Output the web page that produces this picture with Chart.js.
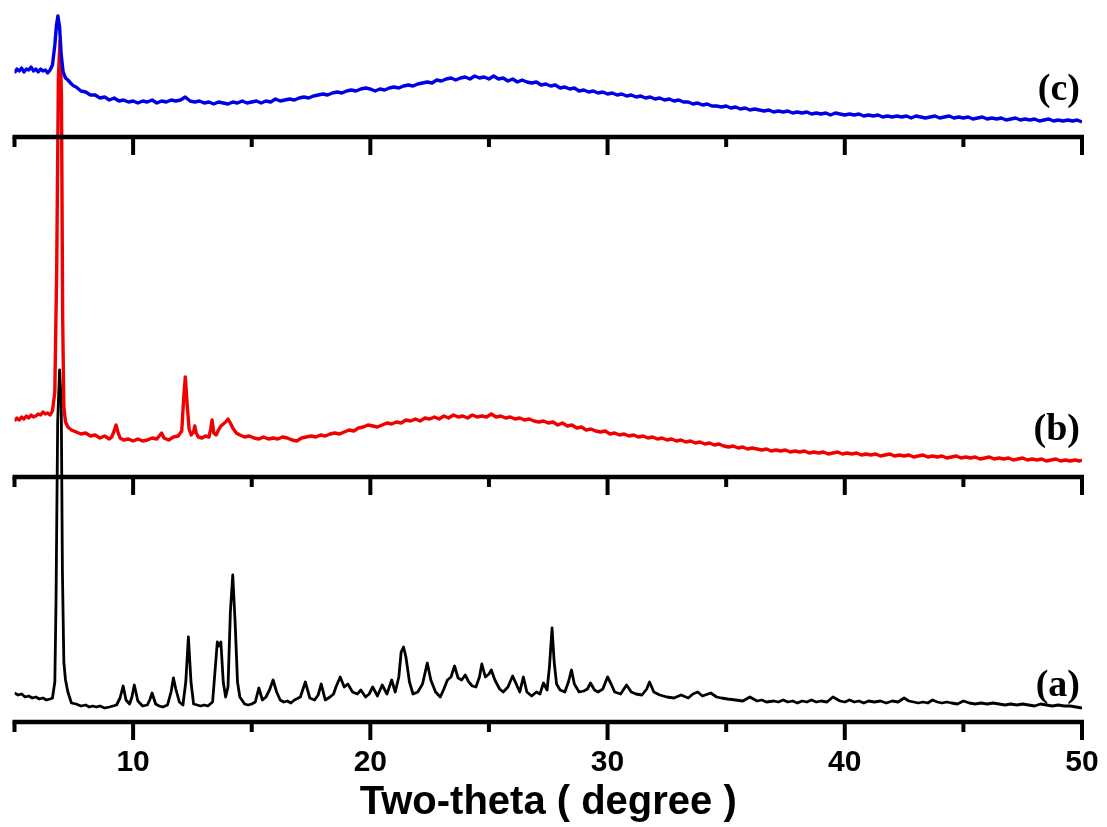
<!DOCTYPE html>
<html>
<head>
<meta charset="utf-8">
<title>XRD patterns</title>
<script src="https://cdn.jsdelivr.net/npm/chart.js@4.4.1/dist/chart.umd.min.js"></script>
<style>
    body { margin: 0; background: #fff; }
    #wrap { width: 1107px; height: 827px; }
</style>
</head>
<body>
<div id="wrap"><canvas id="xrd-chart"></canvas></div>
<script>
// Two-theta range and tick step
const thetaMin = 5;
const thetaMax = 50;
const tickStep = 5;

// Panel labels and the vertical offset of each panel (same units as intensity)
const panelLabels = ['(a)', '(b)', '(c)'];
const panelOffsets = [0, 245, 585];
const panelLabelHeights = [36, 47, 47];

// (c) – blue pattern: [two-theta, intensity above its panel axis]
const patternC = [
    [5.0,64],[5.1,68],[5.2,66],[5.3,69],[5.4,65],[5.5,68],[5.6,67],[5.7,70],[5.8,66],[5.9,68],
    [6.0,65],[6.1,68],[6.2,66],[6.3,67],[6.4,64],[6.5,67],[6.6,72],[6.7,92],[6.77,112],[6.83,121],
    [6.9,110],[6.97,82],[7.05,65],[7.15,59],[7.25,57],[7.4,53],[7.5,51],[7.6,50],[7.8,46],[8.0,45],
    [8.2,42],[8.4,42],[8.6,39],[8.8,40],[9.0,37],[9.2,39],[9.4,36],[9.6,37],[9.8,35],[10.0,36],
    [10.2,34],[10.4,36],[10.6,35],[10.8,37],[11.0,34],[11.2,36],[11.4,35],[11.6,37],[11.8,36],[12.0,37],
    [12.2,40],[12.4,36],[12.6,35],[12.8,36],[13.0,34],[13.2,35],[13.4,33],[13.6,35],[13.8,34],[14.0,33],
    [14.2,35],[14.4,34],[14.6,36],[14.8,34],[15.0,35],[15.2,36],[15.4,34],[15.6,36],[15.8,35],[16.0,38],
    [16.2,36],[16.4,37],[16.6,38],[16.8,37],[17.0,39],[17.2,40],[17.4,39],[17.6,41],[17.8,42],[18.0,43],
    [18.2,42],[18.4,44],[18.6,45],[18.8,44],[19.0,46],[19.2,47],[19.4,46],[19.6,48],[19.8,49],[20.0,48],
    [20.2,46],[20.4,48],[20.6,47],[20.8,49],[21.0,50],[21.2,49],[21.4,51],[21.6,52],[21.8,51],[22.0,53],
    [22.2,54],[22.4,55],[22.6,54],[22.8,57],[23.0,56],[23.2,58],[23.4,59],[23.6,57],[23.8,59],[24.0,60],
    [24.2,58],[24.4,61],[24.6,59],[24.8,60],[25.0,58],[25.2,61],[25.4,58],[25.6,59],[25.8,56],[26.0,58],
    [26.2,55],[26.4,57],[26.6,55],[26.8,54],[27.0,55],[27.2,52],[27.4,53],[27.6,51],[27.8,52],[28.0,49],
    [28.2,50],[28.4,48],[28.6,49],[28.8,46],[29.0,47],[29.2,45],[29.4,46],[29.6,44],[29.8,45],[30.0,43],
    [30.2,44],[30.4,42],[30.6,43],[30.8,41],[31.0,42],[31.2,40],[31.4,41],[31.6,39],[31.8,40],[32.0,38],
    [32.2,39],[32.4,37],[32.6,38],[32.8,36],[33.0,37],[33.2,35],[33.4,35],[33.6,33],[33.8,34],[34.0,32],
    [34.2,33],[34.4,31],[34.6,31],[34.8,30],[35.0,31],[35.2,29],[35.4,30],[35.6,28],[35.8,29],[36.0,27],
    [36.2,28],[36.4,27],[36.6,26],[36.8,27],[37.0,25],[37.2,26],[37.4,25],[37.6,26],[37.8,24],[38.0,25],
    [38.2,24],[38.4,25],[38.6,23],[38.8,24],[39.0,23],[39.2,24],[39.4,22],[39.6,24],[39.8,23],[40.0,22],
    [40.2,23],[40.4,22],[40.6,23],[40.8,21],[41.0,22],[41.2,21],[41.4,22],[41.6,20],[41.8,21],[42.0,20],
    [42.2,21],[42.4,20],[42.6,21],[42.8,19],[43.0,21],[43.2,20],[43.4,19],[43.6,20],[43.8,21],[44.0,19],
    [44.2,20],[44.4,21],[44.6,19],[44.8,20],[45.0,19],[45.2,20],[45.4,18],[45.6,19],[45.8,20],[46.0,18],
    [46.2,19],[46.4,18],[46.6,19],[46.8,17],[47.0,18],[47.2,19],[47.4,17],[47.6,18],[47.8,17],[48.0,18],
    [48.2,16],[48.4,17],[48.6,18],[48.8,16],[49.0,17],[49.2,16],[49.4,17],[49.6,16],[49.8,17],[50.0,15]
];

// (b) – red pattern
const patternB = [
    [5.0,56],[5.1,59],[5.2,57],[5.3,60],[5.4,58],[5.5,61],[5.6,59],[5.7,62],[5.8,60],[5.9,61],
    [6.0,63],[6.1,62],[6.2,65],[6.3,63],[6.4,64],[6.5,62],[6.6,66],[6.7,85],[6.78,210],[6.85,400],
    [6.92,437],[6.98,380],[7.03,160],[7.08,70],[7.15,55],[7.25,50],[7.4,47],[7.5,46],[7.6,45],[7.8,43],
    [8.0,44],[8.2,41],[8.4,42],[8.6,39],[8.8,41],[9.0,38],[9.1,40],[9.2,46],[9.28,52],[9.36,45],
    [9.45,39],[9.6,37],[9.8,38],[10.0,36],[10.2,38],[10.4,36],[10.6,37],[10.8,39],[11.0,38],[11.1,41],
    [11.2,44],[11.3,39],[11.5,37],[11.7,40],[11.9,41],[12.05,46],[12.13,78],[12.2,100],[12.28,72],[12.36,48],
    [12.45,42],[12.55,45],[12.6,51],[12.66,44],[12.75,40],[12.9,39],[13.05,41],[13.2,40],[13.27,48],[13.33,57],
    [13.4,44],[13.5,42],[13.6,47],[13.7,51],[13.8,53],[13.9,55],[14.0,58],[14.1,54],[14.2,49],[14.35,44],
    [14.5,42],[14.7,40],[14.9,41],[15.1,39],[15.3,38],[15.5,40],[15.7,38],[15.9,39],[16.1,38],[16.3,40],
    [16.5,39],[16.7,37],[16.9,36],[17.1,39],[17.3,40],[17.5,41],[17.7,40],[17.9,42],[18.1,41],[18.3,43],
    [18.5,44],[18.7,43],[18.9,45],[19.1,47],[19.3,46],[19.5,49],[19.7,50],[19.9,52],[20.1,51],[20.3,50],
    [20.5,52],[20.7,54],[20.9,53],[21.1,55],[21.3,54],[21.5,57],[21.7,56],[21.9,58],[22.1,56],[22.3,59],
    [22.5,58],[22.7,60],[22.9,58],[23.1,61],[23.3,59],[23.5,62],[23.7,60],[23.9,61],[24.1,59],[24.3,62],
    [24.5,60],[24.7,61],[24.9,60],[25.1,63],[25.3,60],[25.5,61],[25.7,59],[25.9,60],[26.1,58],[26.3,59],
    [26.5,57],[26.7,58],[26.9,56],[27.1,55],[27.3,56],[27.5,54],[27.7,55],[27.9,52],[28.1,54],[28.3,51],
    [28.5,52],[28.7,49],[28.9,50],[29.1,47],[29.3,48],[29.5,46],[29.7,45],[29.9,46],[30.1,43],[30.3,44],
    [30.5,42],[30.7,43],[30.9,41],[31.1,42],[31.3,40],[31.5,41],[31.7,39],[31.9,40],[32.1,38],[32.3,39],
    [32.5,37],[32.7,38],[32.9,36],[33.1,37],[33.3,35],[33.5,36],[33.7,34],[33.9,35],[34.1,33],[34.3,34],
    [34.5,32],[34.7,33],[34.9,31],[35.1,30],[35.3,31],[35.5,29],[35.7,30],[35.9,28],[36.1,29],[36.3,28],
    [36.5,27],[36.7,28],[36.9,26],[37.1,27],[37.3,26],[37.5,27],[37.7,25],[37.9,26],[38.1,25],[38.3,26],
    [38.5,24],[38.7,25],[38.9,24],[39.1,25],[39.3,23],[39.5,24],[39.7,25],[39.9,23],[40.1,24],[40.3,23],
    [40.5,24],[40.7,22],[40.9,23],[41.1,22],[41.3,23],[41.5,21],[41.7,22],[41.9,23],[42.1,21],[42.3,22],
    [42.5,21],[42.7,22],[42.9,20],[43.1,21],[43.3,22],[43.5,20],[43.7,21],[43.9,20],[44.1,21],[44.3,19],
    [44.5,20],[44.7,21],[44.9,19],[45.1,20],[45.3,19],[45.5,20],[45.7,18],[45.9,19],[46.1,20],[46.3,18],
    [46.5,19],[46.7,18],[46.9,19],[47.1,17],[47.3,18],[47.5,19],[47.7,17],[47.9,18],[48.1,17],[48.3,18],
    [48.5,16],[48.7,17],[48.9,18],[49.1,16],[49.3,17],[49.5,16],[49.7,17],[49.9,16],[50.0,17]
];

// (a) – black pattern
const patternA = [
    [5.0,29],[5.15,27],[5.3,28],[5.45,25],[5.6,26],[5.75,24],[5.9,25],[6.05,23],[6.2,24],[6.35,22],
    [6.5,23],[6.6,24],[6.7,40],[6.75,120],[6.82,300],[6.9,352],[6.97,320],[7.02,150],[7.08,60],[7.15,42],
    [7.25,30],[7.4,19],[7.6,18],[7.8,16],[8.0,17],[8.15,15],[8.3,16],[8.45,15],[8.6,16],[8.8,14],
    [9.0,15],[9.15,16],[9.3,17],[9.45,24],[9.58,36],[9.7,22],[9.85,18],[9.95,25],[10.05,37],[10.2,21],
    [10.4,16],[10.6,17],[10.7,22],[10.8,29],[10.95,18],[11.1,16],[11.25,15],[11.45,17],[11.6,30],[11.7,44],
    [11.8,33],[11.95,20],[12.1,17],[12.22,40],[12.33,85],[12.44,40],[12.55,18],[12.7,17],[12.85,16],[13.0,17],
    [13.15,16],[13.35,20],[13.45,50],[13.55,80],[13.62,76],[13.7,80],[13.8,40],[13.9,25],[14.0,35],[14.1,110],
    [14.2,147],[14.3,100],[14.4,40],[14.5,25],[14.7,18],[14.85,17],[15.0,18],[15.15,20],[15.3,34],[15.45,22],
    [15.6,25],[15.75,32],[15.9,42],[16.05,30],[16.2,22],[16.35,20],[16.5,21],[16.65,19],[16.8,22],[17.05,25],
    [17.26,40],[17.45,24],[17.65,22],[17.8,27],[17.93,38],[18.1,22],[18.3,25],[18.45,28],[18.55,35],[18.73,45],
    [18.9,35],[19.05,38],[19.25,30],[19.45,28],[19.6,32],[19.8,25],[19.95,28],[20.1,35],[20.3,26],[20.5,37],
    [20.7,28],[20.9,42],[21.05,30],[21.2,45],[21.3,70],[21.4,75],[21.5,65],[21.65,40],[21.8,28],[22.0,30],
    [22.2,38],[22.4,59],[22.55,42],[22.75,30],[22.95,25],[23.1,33],[23.25,42],[23.4,45],[23.55,56],[23.7,44],
    [23.85,42],[24.0,47],[24.15,40],[24.3,36],[24.45,35],[24.6,45],[24.7,58],[24.85,45],[25.0,48],[25.1,52],
    [25.25,42],[25.45,33],[25.6,30],[25.8,35],[26.0,46],[26.15,38],[26.3,30],[26.45,45],[26.6,30],[26.8,26],
    [27.0,30],[27.15,28],[27.3,39],[27.45,32],[27.55,55],[27.66,94],[27.75,60],[27.85,38],[28.0,32],[28.2,30],
    [28.35,40],[28.48,52],[28.6,38],[28.8,30],[29.0,31],[29.15,33],[29.28,39],[29.45,32],[29.6,30],[29.8,33],
    [30.0,45],[30.15,38],[30.3,30],[30.55,28],[30.8,37],[31.0,30],[31.2,28],[31.45,27],[31.65,33],[31.77,40],
    [31.95,30],[32.2,27],[32.5,25],[32.8,24],[33.1,27],[33.4,24],[33.6,28],[33.8,30],[34.0,26],[34.35,29],
    [34.6,25],[34.8,24],[35.06,23],[35.4,22],[35.7,21],[36.0,25],[36.3,21],[36.5,22],[36.7,20],[37.0,21],
    [37.2,20],[37.4,22],[37.6,20],[37.8,21],[38.0,19],[38.2,21],[38.4,20],[38.6,22],[38.8,20],[39.0,21],
    [39.25,20],[39.5,25],[39.8,21],[40.0,20],[40.2,22],[40.4,20],[40.6,21],[40.8,19],[41.0,21],[41.25,20],
    [41.5,21],[41.75,19],[42.0,21],[42.25,20],[42.5,24],[42.7,21],[42.9,20],[43.1,19],[43.3,20],[43.5,19],
    [43.7,22],[43.9,20],[44.1,19],[44.3,20],[44.5,19],[44.75,18],[45.0,21],[45.25,19],[45.5,18],[45.75,19],
    [46.0,18],[46.25,19],[46.5,18],[46.75,17],[47.0,18],[47.25,17],[47.5,18],[47.75,17],[48.0,16],[48.25,18],
    [48.5,17],[48.75,16],[49.0,17],[49.25,16],[49.5,16],[49.75,15],[50.0,14]
];

const patterns = [patternA, patternB, patternC];
const lineColors = ['#000000', '#f00000', '#0000e6'];
const lineWidths = [2.8, 3.4, 3.4];

// shift each pattern up to its own panel
function toPoints(pattern, offset) {
    return pattern.map(p => ({ x: p[0], y: p[1] + offset }));
}

// draws the panel axis lines (with ticks) and the (a)/(b)/(c) labels
const panelAxes = {
    id: 'panelAxes',
    afterDatasetsDraw(chart) {
        const ctx = chart.ctx;
        const xs = chart.scales.x;
        const ys = chart.scales.y;
        const left = xs.getPixelForValue(thetaMin);
        const right = xs.getPixelForValue(thetaMax);
        ctx.save();
        ctx.strokeStyle = '#000';
        ctx.fillStyle = '#000';
        panelOffsets.forEach((off, i) => {
            const y = ys.getPixelForValue(off);
            ctx.lineWidth = 4.5;
            ctx.beginPath();
            ctx.moveTo(left - 2, y);
            ctx.lineTo(right + 2, y);
            ctx.stroke();
            ctx.lineWidth = 4;
            xs.ticks.forEach(t => {
                const px = xs.getPixelForValue(t.value);
                const len = t.value % 10 === 0 ? 18 : 10;
                ctx.beginPath();
                ctx.moveTo(px, y);
                ctx.lineTo(px, y + len);
                ctx.stroke();
            });
            ctx.font = 'bold 38px "Liberation Serif", "Times New Roman", serif';
            ctx.textAlign = 'right';
            ctx.textBaseline = 'middle';
            ctx.fillText(panelLabels[i], right - 2, ys.getPixelForValue(off + panelLabelHeights[i]));
        });
        ctx.restore();
    }
};

function initializeChart() {
    const ctx = document.getElementById('xrd-chart').getContext('2d');
    const datasets = [2, 1, 0].map(i => ({
        data: toPoints(patterns[i], panelOffsets[i]),
        borderColor: lineColors[i],
        borderWidth: lineWidths[i],
        pointRadius: 0,
        tension: 0,
        borderJoinStyle: 'round',
        fill: false
    }));

    new Chart(ctx, {
        type: 'line',
        data: { datasets: datasets },
        options: {
            responsive: true,
            maintainAspectRatio: false,
            animation: false,
            parsing: false,
            layout: { padding: { left: 14.5, right: 25, top: 0, bottom: 0 } },
            plugins: { legend: { display: false }, tooltip: { enabled: false } },
            scales: {
                x: {
                    type: 'linear',
                    min: thetaMin,
                    max: thetaMax,
                    afterFit: scale => {
                        scale.height = 105;
                        scale.paddingLeft = 0;
                        scale.paddingRight = 0;
                    },
                    grid: { display: false, drawTicks: false },
                    border: { display: false },
                    ticks: {
                        stepSize: tickStep,
                        autoSkip: false,
                        maxRotation: 0,
                        padding: 23,
                        color: '#000',
                        font: { family: '"Liberation Sans", Arial, sans-serif', size: 30, weight: 'bold' },
                        callback: v => (v % 10 === 0 ? v : '')
                    },
                    title: {
                        display: true,
                        text: 'Two-theta ( degree )',
                        color: '#000',
                        padding: { top: 0, bottom: 0 },
                        font: { family: '"Liberation Sans", Arial, sans-serif', size: 40, weight: 'bold' }
                    }
                },
                y: { display: false, min: 0, max: 722 }
            }
        },
        plugins: [panelAxes]
    });
}

window.onload = initializeChart;
</script>
</body>
</html>
